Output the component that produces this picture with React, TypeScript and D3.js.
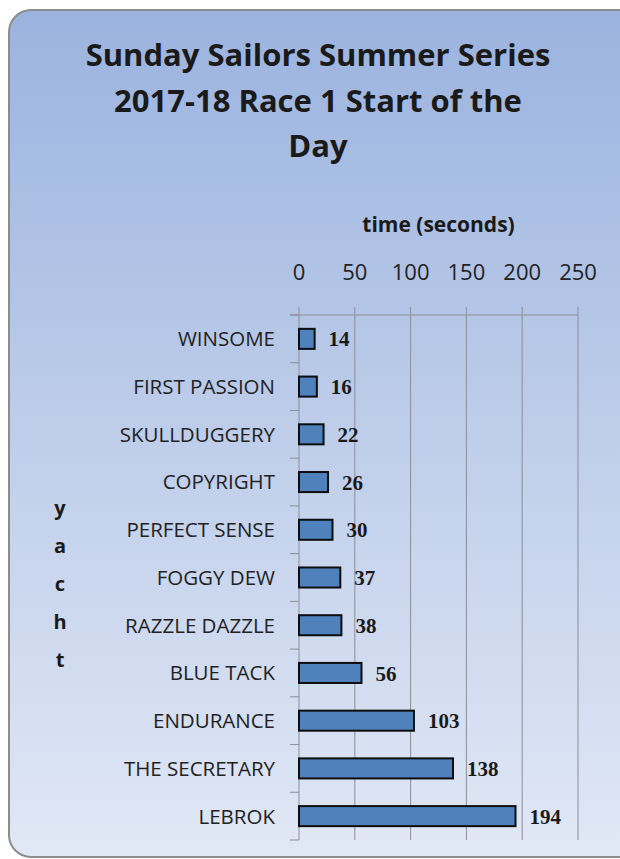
import * as d3 from "d3";
import { useRef, useEffect } from "react";

const yachts = [
    "WINSOME", "FIRST PASSION", "SKULLDUGGERY", "COPYRIGHT", "PERFECT SENSE",
    "FOGGY DEW", "RAZZLE DAZZLE", "BLUE TACK", "ENDURANCE", "THE SECRETARY", "LEBROK"
];
const times = [14, 16, 22, 26, 30, 37, 38, 56, 103, 138, 194];
const xTicks = [0, 50, 100, 150, 200, 250];
const titleLines = ["Sunday Sailors Summer Series", "2017-18 Race 1 Start of the", "Day"];
const xTitle = "time (seconds)";
const yTitle = "yacht";

const W = 620, H = 859;

const App = () => {
    const chartRef = useRef(null);

    const margin = { top: 315, bottom: 19, left: 299, right: 42 };
    const boundWidth = W - margin.left - margin.right;
    const boundHeight = H - margin.top - margin.bottom;

    useEffect(() => {
        const svg = d3.select(chartRef.current);
        svg.selectAll('*').remove();

        const defs = svg.append('defs');
        const grad = defs.append('linearGradient')
            .attr('id', 'bg')
            .attr('x1', 0).attr('y1', 0).attr('x2', 0).attr('y2', 1);
        grad.append('stop').attr('offset', '0%').attr('stop-color', '#9bb3df');
        grad.append('stop').attr('offset', '100%').attr('stop-color', '#e1e8f5');

        svg.append('rect')
           .attr('width', W).attr('height', H)
           .attr('fill', '#ffffff');

        svg.append('rect')
           .attr('x', 9).attr('y', 10)
           .attr('width', W + 20).attr('height', H - 12)
           .attr('rx', 22)
           .attr('fill', 'url(#bg)')
           .attr('stroke', '#8c8c8c')
           .attr('stroke-width', 2);

        // title
        svg.append('g')
           .selectAll('text')
           .data(titleLines)
           .enter()
           .append('text')
           .attr('x', 318)
           .attr('y', (d, i) => 66 + i * 45.5)
           .attr('text-anchor', 'middle')
           .style('font-family', '"Open Sans", sans-serif')
           .style('font-weight', 'bold')
           .style('font-size', '31px')
           .style('fill', '#1a1a1a')
           .text(d => d);

        const scaleX = d3.scaleLinear()
            .domain([0, 250])
            .range([0, boundWidth]);

        const scaleY = d3.scaleBand()
            .domain(yachts)
            .range([0, boundHeight])
            .paddingInner(0.58)
            .paddingOuter(0.29);

        const g = svg.append('g')
            .attr('transform', `translate(${margin.left}, ${margin.top})`);

        // vertical gridlines incl. ticks above top
        g.selectAll('.grid')
         .data(xTicks.slice(1))
         .enter()
         .append('line')
         .attr('class', 'grid')
         .attr('x1', d => scaleX(d)).attr('x2', d => scaleX(d))
         .attr('y1', -8).attr('y2', boundHeight)
         .attr('stroke', '#8a8f99')
         .attr('stroke-width', 1);

        // top axis line
        g.append('line')
         .attr('x1', -9).attr('x2', scaleX(250))
         .attr('y1', 0).attr('y2', 0)
         .attr('stroke', '#8a8f99');

        // left axis line
        g.append('line')
         .attr('x1', 0).attr('x2', 0)
         .attr('y1', -8).attr('y2', boundHeight)
         .attr('stroke', '#8a8f99');

        // category boundary ticks
        const bounds = d3.range(yachts.length + 1).map(i => i * boundHeight / yachts.length);
        g.selectAll('.ytick')
         .data(bounds)
         .enter()
         .append('line')
         .attr('class', 'ytick')
         .attr('x1', -9).attr('x2', 0)
         .attr('y1', d => d).attr('y2', d => d)
         .attr('stroke', '#8a8f99');

        // tick labels
        g.selectAll('.xlabel')
         .data(xTicks)
         .enter()
         .append('text')
         .attr('class', 'xlabel')
         .attr('x', d => scaleX(d))
         .attr('y', -35)
         .attr('text-anchor', 'middle')
         .style('font-family', '"Open Sans", sans-serif')
         .style('font-size', '22px')
         .style('fill', '#222')
         .text(d => d);

        g.append('text')
         .attr('x', boundWidth / 2)
         .attr('y', -83)
         .attr('text-anchor', 'middle')
         .style('font-family', '"Open Sans", sans-serif')
         .style('font-weight', 'bold')
         .style('font-size', '21px')
         .style('fill', '#1a1a1a')
         .text(xTitle);

        // category labels
        g.selectAll('.ylabel')
         .data(yachts)
         .enter()
         .append('text')
         .attr('class', 'ylabel')
         .attr('x', -24)
         .attr('y', d => scaleY(d) + scaleY.bandwidth() / 2)
         .attr('dy', '0.36em')
         .attr('text-anchor', 'end')
         .style('font-family', '"Open Sans", sans-serif')
         .style('font-size', '20.5px')
         .style('fill', '#222')
         .text(d => d);

        // y title, stacked letters
        g.selectAll('.ytitle')
         .data(yTitle.split(''))
         .enter()
         .append('text')
         .attr('class', 'ytitle')
         .attr('x', 60 - margin.left)
         .attr('y', (d, i) => boundHeight / 2 - 70 + i * 38)
         .attr('dy', '0.35em')
         .attr('text-anchor', 'middle')
         .style('font-family', '"Open Sans", sans-serif')
         .style('font-weight', 'bold')
         .style('font-size', '20px')
         .style('fill', '#1a1a1a')
         .text(d => d);

        // bars
        g.selectAll('.bar')
         .data(times)
         .enter()
         .append('rect')
         .attr('class', 'bar')
         .attr('x', 0)
         .attr('y', (d, i) => scaleY(yachts[i]))
         .attr('width', d => scaleX(d))
         .attr('height', scaleY.bandwidth())
         .attr('fill', '#4f81bd')
         .attr('stroke', '#0d0d0d')
         .attr('stroke-width', 2);

        // value labels
        g.selectAll('.value')
         .data(times)
         .enter()
         .append('text')
         .attr('class', 'value')
         .attr('x', d => scaleX(d) + 14)
         .attr('y', (d, i) => scaleY(yachts[i]) + scaleY.bandwidth() / 2)
         .attr('dy', '0.36em')
         .style('font-family', '"Liberation Serif", serif')
         .style('font-weight', 'bold')
         .style('font-size', '21px')
         .style('fill', '#1a1a1a')
         .text(d => d);
    }, []);

    return (
        <svg ref={chartRef} width={W} height={H}
             style={{ position: 'absolute', left: 0, top: 0 }}></svg>
    );
};

export default App;
